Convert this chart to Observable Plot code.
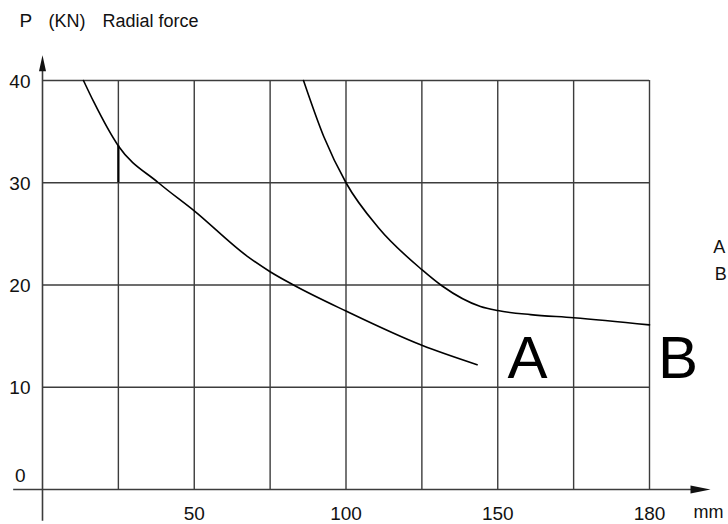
<!DOCTYPE html>
<html><head><meta charset="utf-8">
<script src="https://cdn.jsdelivr.net/npm/d3@7"></script>
<script src="https://cdn.jsdelivr.net/npm/@observablehq/plot@0.6"></script>
<style>
body{margin:0;background:#fff;}
svg{font-family:"Liberation Sans",Arial,Helvetica,sans-serif;}
</style>
</head><body><div id="chart"></div>
<script>
// Curve A (left curve)
const curveAX = [13.5, 16.9, 25, 38.2, 50, 67.5, 75, 82.7, 100, 125, 143.2];
const curveAY = [40, 37.9, 33.6, 30, 27.25, 22.8, 21.3, 20, 17.45, 14.1, 12.2];
// Curve B (right curve)
const curveBX = [86, 92.7, 100, 110.7, 125, 131.7, 144.3, 150, 160.8, 175, 200];
const curveBY = [40, 34.5, 30, 25.6, 21.5, 19.9, 17.9, 17.5, 17.1, 16.8, 16.1];

// grid & ticks
const xGrid = [25, 50, 75, 100, 125, 150, 175, 200];
const yGrid = [10, 20, 30, 40];
const xTickValues = [50, 100, 150, 200];
const xTickLabels = ["50", "100", "150", "180"];
const yTickValues = [10, 20, 30, 40];
const yTickLabels = ["10", "20", "30", "40"];
const zeroLabel = ["0"];
const xUnit = ["mm"];
const titleParts = ["P", "(KN)", "Radial force"];

// curve labels
const curveNames = ["A", "B"];
const curveLabelX = [159.8, 209.4];
const curveLabelY = [10.86, 10.95];
// side legend letters
const legendNames = ["A", "B"];
const legendX = [221, 221.5];
const legendY = [23.1, 20.45];

const ink = "#111";
const gridColor = "#3c3c3c";

const chart = Plot.plot({
  width: 728,
  height: 524,
  marginLeft: 42,
  marginRight: 79,
  marginTop: 80,
  marginBottom: 35,
  x: {domain: [0, 200], axis: null},
  y: {domain: [0, 40], axis: null},
  style: {background: "#fff", fontFamily: "Liberation Sans, Arial, sans-serif"},
  marks: [
    // grid
    Plot.ruleX(xGrid, {y1: 0, y2: 40, stroke: gridColor, strokeWidth: 1.4}),
    Plot.ruleY(yGrid, {x1: 0, x2: 200, stroke: gridColor, strokeWidth: 1.4}),
    Plot.ruleX([25], {y1: 30, y2: 33.6, stroke: "#000", strokeWidth: 2.2}),
    // axes with arrows
    Plot.ruleY([0], {x1: -9.5, x2: 214, stroke: gridColor, strokeWidth: 1.6}),
    Plot.ruleX([0], {y1: -3.1, y2: 41, stroke: gridColor, strokeWidth: 1.6}),
    Plot.vector([0], {x: 213.5, y: 0, length: 20, rotate: 90, shape: "spike", r: 4, anchor: "start", fill: ink, stroke: "none"}),
    Plot.vector([0], {x: 0, y: 40.9, length: 16, rotate: 0, shape: "spike", r: 3.5, anchor: "start", fill: ink, stroke: "none"}),
    // curves
    Plot.line(curveAX, {x: curveAX, y: curveAY, curve: "monotone-x", stroke: "#000", strokeWidth: 1.6}),
    Plot.line(curveBX, {x: curveBX, y: curveBY, curve: "monotone-x", stroke: "#000", strokeWidth: 1.6}),
    // y tick labels
    Plot.text(yTickLabels, {x: 0, y: yTickValues, text: d => d, textAnchor: "end", dx: -12, dy: 1, fontSize: 19, fill: ink}),
    Plot.text(zeroLabel, {x: 0, y: 0, text: d => d, textAnchor: "end", dx: -17, dy: -14, fontSize: 19, fill: ink}),
    // x tick labels
    Plot.text(xTickLabels, {x: xTickValues, y: 0, text: d => d, textAnchor: "middle", dy: 24, fontSize: 19, fill: ink}),
    Plot.text(xUnit, {x: 214.5, y: 0, text: d => d, textAnchor: "start", dy: 23, fontSize: 18, fill: ink}),
    // curve labels
    Plot.text(curveNames, {x: curveLabelX, y: curveLabelY, text: d => d, textAnchor: "middle", lineAnchor: "bottom", fontSize: 60, fill: "#000"}),
    // side legend letters
    Plot.text(legendNames, {x: legendX, y: legendY, text: d => d, textAnchor: "start", lineAnchor: "bottom", fontSize: 18, fill: ink}),
    // title
    Plot.text([titleParts[0]], {frameAnchor: "top-left", text: d => d, textAnchor: "start", lineAnchor: "bottom", dx: -23, dy: -54, fontSize: 19, fill: ink}),
    Plot.text([titleParts[1]], {frameAnchor: "top-left", text: d => d, textAnchor: "start", lineAnchor: "bottom", dx: 6, dy: -54, fontSize: 18, letterSpacing: 1, fill: ink}),
    Plot.text([titleParts[2]], {frameAnchor: "top-left", text: d => d, textAnchor: "start", lineAnchor: "bottom", dx: 60, dy: -54, fontSize: 18, letterSpacing: 0.3, fill: ink})
  ]
});
document.getElementById("chart").appendChild(chart);
</script>
</body></html>
